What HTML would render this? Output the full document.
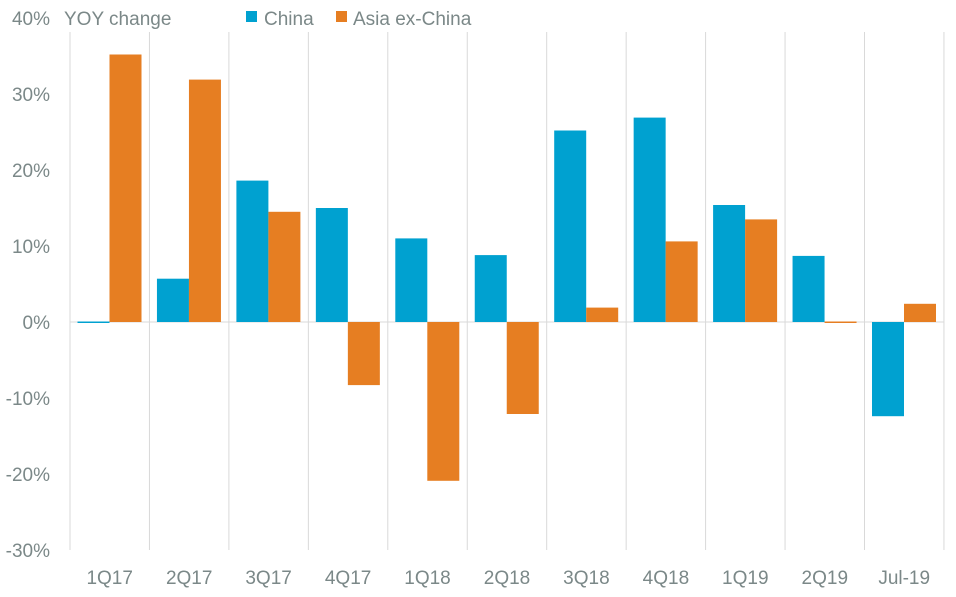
<!DOCTYPE html>
<html><head><meta charset="utf-8"><style>
body{margin:0;background:#fff;}
svg text{font-family:"Liberation Sans",sans-serif;fill:#7b8888;font-size:19px;}
</style></head><body>
<svg width="956" height="592" xmlns="http://www.w3.org/2000/svg">
<g stroke="#d9d9d9" stroke-width="1">
<line x1="70" y1="32" x2="70" y2="550"/>
<line x1="149.45" y1="32" x2="149.45" y2="550"/>
<line x1="228.9" y1="32" x2="228.9" y2="550"/>
<line x1="308.35" y1="32" x2="308.35" y2="550"/>
<line x1="387.8" y1="32" x2="387.8" y2="550"/>
<line x1="467.25" y1="32" x2="467.25" y2="550"/>
<line x1="546.7" y1="32" x2="546.7" y2="550"/>
<line x1="626.15" y1="32" x2="626.15" y2="550"/>
<line x1="705.6" y1="32" x2="705.6" y2="550"/>
<line x1="785.05" y1="32" x2="785.05" y2="550"/>
<line x1="864.5" y1="32" x2="864.5" y2="550"/>
<line x1="943.95" y1="32" x2="943.95" y2="550"/>
<line x1="70" y1="322" x2="944" y2="322"/>
</g>
<g fill="#00a1d0">
<rect x="77.5" y="321.5" width="32" height="1.5"/>
<rect x="156.95" y="278.7" width="32" height="43.3"/>
<rect x="236.4" y="180.6" width="32" height="141.4"/>
<rect x="315.85" y="208" width="32" height="114"/>
<rect x="395.3" y="238.4" width="32" height="83.6"/>
<rect x="474.75" y="255.1" width="32" height="66.9"/>
<rect x="554.2" y="130.5" width="32" height="191.5"/>
<rect x="633.65" y="117.6" width="32" height="204.4"/>
<rect x="713.1" y="205" width="32" height="117"/>
<rect x="792.55" y="255.9" width="32" height="66.1"/>
<rect x="872" y="322" width="32" height="94.2"/>
</g>
<g fill="#e67e22">
<rect x="109.5" y="54.5" width="32" height="267.5"/>
<rect x="188.95" y="79.6" width="32" height="242.4"/>
<rect x="268.4" y="211.8" width="32" height="110.2"/>
<rect x="347.85" y="322" width="32" height="63.1"/>
<rect x="427.3" y="322" width="32" height="158.8"/>
<rect x="506.75" y="322" width="32" height="92"/>
<rect x="586.2" y="307.6" width="32" height="14.4"/>
<rect x="665.65" y="241.4" width="32" height="80.6"/>
<rect x="745.1" y="219.4" width="32" height="102.6"/>
<rect x="824.55" y="321.5" width="32" height="1.5"/>
<rect x="904" y="303.8" width="32" height="18.2"/>
</g>
<g text-anchor="end">
<text x="50" y="25">40%</text>
<text x="50" y="101">30%</text>
<text x="50" y="177">20%</text>
<text x="50" y="253">10%</text>
<text x="50" y="329">0%</text>
<text x="50" y="405">-10%</text>
<text x="50" y="481">-20%</text>
<text x="50" y="557">-30%</text>
</g>
<text x="64" y="25">YOY change</text>
<rect x="246" y="11" width="11" height="11" fill="#00a1d0"/>
<text x="264" y="25">China</text>
<rect x="336" y="11" width="11" height="11" fill="#e67e22"/>
<text x="353" y="25">Asia ex-China</text>
<g text-anchor="middle">
<text x="109.7" y="584">1Q17</text>
<text x="189.2" y="584">2Q17</text>
<text x="268.6" y="584">3Q17</text>
<text x="348.1" y="584">4Q17</text>
<text x="427.5" y="584">1Q18</text>
<text x="507" y="584">2Q18</text>
<text x="586.4" y="584">3Q18</text>
<text x="665.9" y="584">4Q18</text>
<text x="745.3" y="584">1Q19</text>
<text x="824.8" y="584">2Q19</text>
<text x="904.2" y="584">Jul-19</text>
</g>
</svg>
</body></html>
